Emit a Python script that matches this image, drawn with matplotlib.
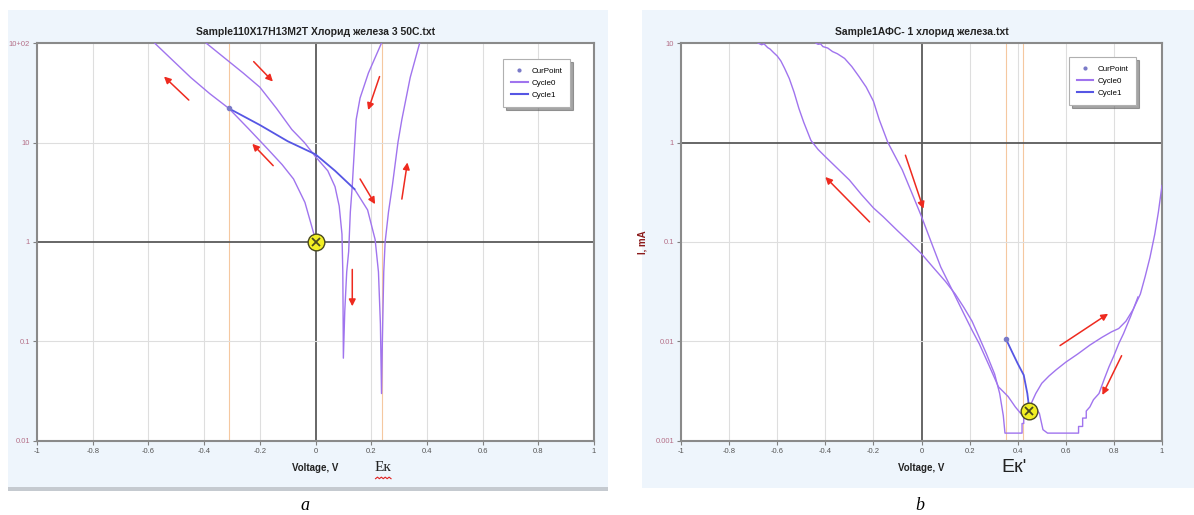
import numpy as np
import matplotlib.pyplot as plt
from matplotlib.patches import Rectangle
from matplotlib.lines import Line2D

plt.rcParams['font.family'] = ['Liberation Sans', 'DejaVu Sans']

# ---- panel a data (110X17H13M2T) ----
a_title = 'Sample110X17H13M2T Хлорид железа 3 50C.txt'
a_yticks = [0.01, 0.1, 1, 10, 100]
a_yticklabels = ['0.01', '0.1', '1', '10', '10+02']
a_left_x = [-0.578, -0.52, -0.448, -0.38, -0.311, -0.24, -0.17, -0.12, -0.079, -0.038, -0.014, -0.004]
a_left_y = [100, 70, 45, 31, 22, 13.7, 8.5, 6.0, 4.3, 2.5, 1.45, 1.15]
a_mid_x = [-0.393, -0.33, -0.26, -0.2, -0.14, -0.085, -0.04, 0.0, 0.044, 0.07, 0.085, 0.095, 0.098,
           0.099, 0.1, 0.105, 0.112, 0.119, 0.125, 0.132, 0.14, 0.146, 0.16, 0.19, 0.237]
a_mid_y = [100, 72, 50, 36, 22, 13.5, 10, 7.2, 5.2, 3.6, 2.3, 1.2, 0.5,
           0.2, 0.068, 0.2, 0.5, 0.8, 2.0, 3.7, 9.0, 17, 28, 50, 100]
a_right_x = [0.14, 0.187, 0.214, 0.226, 0.233, 0.237, 0.24, 0.245, 0.25, 0.262, 0.276, 0.296, 0.31, 0.34, 0.374]
a_right_y = [3.4, 2.1, 1.06, 0.5, 0.15, 0.03, 0.1, 0.5, 1.0, 2.0, 3.7, 10, 17, 45, 100]
a_c1_x = [-0.311, -0.2, -0.1, 0.0, 0.07, 0.14]
a_c1_y = [22, 15, 10.3, 7.6, 5.2, 3.4]
a_curpoint = (-0.311, 22)
a_ek = (0.0, 1.0)
a_orange = [-0.311, 0.24]
# arrows: (tail x, tail y, head x, head y)
a_arrows = [(-0.222, 65, -0.153, 41), (-0.455, 26.7, -0.544, 46), (0.230, 46, 0.189, 21.2),
            (-0.152, 5.85, -0.227, 9.7), (0.16, 4.3, 0.214, 2.4), (0.31, 2.7, 0.33, 6.3),
            (0.132, 0.53, 0.132, 0.226)]

# ---- panel b data (АФС-1) ----
b_title = 'Sample1АФС- 1 хлорид железа.txt'
b_yticks = [0.001, 0.01, 0.1, 1, 10]
b_yticklabels = ['0.001', '0.01', '0.1', '1', '10']
b_left_x = [-0.68, -0.665, -0.655, -0.64, -0.63, -0.615, -0.6, -0.585, -0.57, -0.55, -0.53, -0.51,
            -0.49, -0.46, -0.43, -0.4, -0.35, -0.3, -0.25, -0.2, -0.16, -0.1, -0.05, 0.0, 0.05, 0.1,
            0.14, 0.176, 0.21, 0.24, 0.27, 0.304, 0.325, 0.34, 0.347,
            0.418, 0.418, 0.425, 0.425, 0.435, 0.44, 0.447, 0.46, 0.475, 0.5, 0.53, 0.56, 0.6,
            0.65, 0.7, 0.75, 0.79, 0.82, 0.85, 0.88, 0.91, 0.93, 0.95, 0.97, 0.985, 1.0]
b_left_y = [10, 9.6, 9.8, 9.0, 8.7, 8.0, 7.4, 6.6, 5.6, 4.4, 3.2, 2.2,
            1.6, 1.05, 0.85, 0.72, 0.55, 0.42, 0.3, 0.22, 0.18, 0.13, 0.1, 0.076, 0.055, 0.04,
            0.03, 0.022, 0.016, 0.011, 0.0075, 0.0047, 0.003, 0.0018, 0.0012,
            0.0012, 0.0015, 0.0015, 0.0018, 0.0018, 0.002, 0.002, 0.0025, 0.003, 0.0038, 0.0045, 0.0052, 0.0062,
            0.0075, 0.0092, 0.011, 0.0125, 0.0135, 0.016, 0.021, 0.03, 0.045, 0.07, 0.12, 0.2, 0.37]
b_right_x = [-0.44, -0.43, -0.42, -0.41, -0.39, -0.37, -0.35, -0.32, -0.29, -0.26, -0.23, -0.2,
             -0.176, -0.14, -0.08, -0.04, 0.0, 0.04, 0.08, 0.13, 0.176, 0.21, 0.24, 0.28, 0.32,
             0.36, 0.39, 0.42, 0.447, 0.47, 0.49, 0.505, 0.524, 0.653, 0.653, 0.67, 0.67, 0.685,
             0.685, 0.7, 0.715, 0.738, 0.76, 0.78, 0.8, 0.82, 0.84, 0.87, 0.9]
b_right_y = [10, 9.7, 9.8, 9.2, 8.9, 8.2, 7.8, 7.0, 5.8, 4.6, 3.6, 2.6,
             1.7, 1.0, 0.53, 0.31, 0.18, 0.1, 0.056, 0.032, 0.019, 0.013, 0.0095, 0.0058, 0.0035,
             0.0028, 0.0022, 0.0018, 0.0019, 0.0022, 0.0019, 0.0013, 0.0012, 0.0012, 0.0014, 0.0014, 0.0017, 0.0017,
             0.002, 0.0022, 0.0026, 0.003, 0.0042, 0.0056, 0.0072, 0.0095, 0.012, 0.018, 0.028]
b_c1_x = [0.352, 0.375, 0.4, 0.425, 0.44, 0.447]
b_c1_y = [0.0105, 0.008, 0.006, 0.0046, 0.003, 0.0022]
b_curpoint = (0.352, 0.0105)
b_ek = (0.447, 0.002)
b_orange = [0.352, 0.42]
b_arrows = [(-0.216, 0.159, -0.4, 0.45), (-0.067, 0.745, 0.008, 0.216),
            (0.576, 0.0091, 0.776, 0.019), (0.832, 0.0072, 0.752, 0.0029)]

xticks = [-1, -0.8, -0.6, -0.4, -0.2, 0, 0.2, 0.4, 0.6, 0.8, 1]
xticklabels = ['-1', '-0.8', '-0.6', '-0.4', '-0.2', '0', '0.2', '0.4', '0.6', '0.8', '1']

C0 = '#a074ee'
C1 = '#5656e4'
CP = '#7a7ac8'


def setup_axes(ax, yticks, yticklabels, orange):
    ax.set_yscale('log')
    ax.set_xlim(-1, 1)
    ax.set_ylim(yticks[0], yticks[-1])
    for x in xticks[1:-1]:
        if x == 0:
            ax.axvline(x, color='#5a5a5a', lw=1.3, zorder=1)
        else:
            ax.axvline(x, color='#dedede', lw=0.8, zorder=1)
    for x in orange:
        ax.axvline(x, color='#f5c8a0', lw=0.8, zorder=1)
    for y in yticks[1:-1]:
        if y == 1:
            ax.axhline(y, color='#5a5a5a', lw=1.3, zorder=1)
        else:
            ax.axhline(y, color='#dedede', lw=0.8, zorder=1)
    ax.set_xticks(xticks)
    ax.set_xticklabels(xticklabels)
    ax.set_yticks(yticks)
    ax.set_yticklabels(yticklabels)
    ax.minorticks_off()
    ax.tick_params(axis='both', direction='out', length=3, width=0.8, labelsize=5.5, pad=2, color='#808080')
    ax.tick_params(axis='x', labelcolor='#555555')
    ax.tick_params(axis='y', labelcolor='#b57088')
    for s in ax.spines.values():
        s.set_color('#8a8a8a')
        s.set_linewidth(1.5)
    ax.set_facecolor('white')


def draw_arrows(ax, arrows):
    for tx, ty, hx, hy in arrows:
        ax.annotate('', xy=(hx, hy), xytext=(tx, ty),
                    arrowprops=dict(arrowstyle='-|>', color='#ee2a1f', lw=1.1, mutation_scale=10,
                                    shrinkA=0, shrinkB=0), zorder=5)


def draw_ek(ax, pt):
    ax.plot([pt[0]], [pt[1]], marker='o', ms=12, mfc='#f2ef24', mec='#4a4a20', mew=1.0, zorder=6)
    ax.plot([pt[0]], [pt[1]], marker='x', ms=6, color='#4a4a20', mew=1.3, zorder=7)


def add_legend(ax, anchor):
    handles = [Line2D([], [], marker='.', ls='none', color=CP, ms=4, label='CurPoint'),
               Line2D([], [], color=C0, lw=1.5, label='Cycle0'),
               Line2D([], [], color=C1, lw=1.5, label='Cycle1')]
    leg = ax.legend(handles=handles, loc='upper right', bbox_to_anchor=anchor, fontsize=5.8,
                    frameon=True, fancybox=False, shadow=True, handlelength=2.0,
                    borderpad=1.0, labelspacing=0.55, handletextpad=0.5)
    leg.get_frame().set_edgecolor('#b0b0b0')
    leg.get_frame().set_linewidth(0.8)


fig = plt.figure(figsize=(11.94, 5.15), dpi=100)
fig.patch.set_facecolor('white')

# panel backgrounds
fig.patches.append(Rectangle((0.0067, 0.0466), 0.5025, 0.934, transform=fig.transFigure,
                             facecolor='#eef5fc', edgecolor='none', zorder=-2))
fig.patches.append(Rectangle((0.0067, 0.0466), 0.5025, 0.007, transform=fig.transFigure,
                             facecolor='#c5cad0', edgecolor='none', zorder=-1))
fig.patches.append(Rectangle((0.5377, 0.0524), 0.4623, 0.928, transform=fig.transFigure,
                             facecolor='#eef5fc', edgecolor='none', zorder=-2))

# ---- panel a ----
ax_a = fig.add_axes([0.031, 0.1437, 0.4665, 0.7728])
setup_axes(ax_a, a_yticks, a_yticklabels, a_orange)
ax_a.plot(a_left_x, a_left_y, color=C0, lw=1.0, zorder=3)
ax_a.plot(a_mid_x, a_mid_y, color=C0, lw=1.0, zorder=3)
ax_a.plot(a_right_x, a_right_y, color=C0, lw=1.0, zorder=3)
ax_a.plot(a_c1_x, a_c1_y, color=C1, lw=1.3, zorder=3)
ax_a.plot([a_curpoint[0]], [a_curpoint[1]], marker='o', ms=3, color=CP, zorder=4)
draw_arrows(ax_a, a_arrows)
draw_ek(ax_a, a_ek)
add_legend(ax_a, (0.965, 0.97))
ax_a.set_title(a_title, fontsize=7.5, fontweight='bold', pad=5.5, color='#222222')
ax_a.set_xlabel('Voltage, V', fontsize=7, fontweight='bold', color='#222222')
ax_a.xaxis.set_label_coords(0.5, -0.055)

# ---- panel b ----
ax_b = fig.add_axes([0.5704, 0.1437, 0.4028, 0.7728])
setup_axes(ax_b, b_yticks, b_yticklabels, b_orange)
ax_b.plot(b_left_x, b_left_y, color=C0, lw=1.0, zorder=3)
ax_b.plot(b_right_x, b_right_y, color=C0, lw=1.0, zorder=3)
ax_b.plot(b_c1_x, b_c1_y, color=C1, lw=1.3, zorder=3)
ax_b.plot([b_curpoint[0]], [b_curpoint[1]], marker='o', ms=3, color=CP, zorder=4)
draw_arrows(ax_b, b_arrows)
draw_ek(ax_b, b_ek)
add_legend(ax_b, (0.955, 0.975))
ax_b.set_title(b_title, fontsize=7.5, fontweight='bold', pad=5.5, color='#222222')
ax_b.set_xlabel('Voltage, V', fontsize=7, fontweight='bold', color='#222222')
ax_b.xaxis.set_label_coords(0.5, -0.055)
ax_b.set_ylabel('I, mA', fontsize=7, fontweight='bold', color='#8b1a1a')
ax_b.yaxis.set_label_coords(-0.07, 0.5)

# Ek annotations under the axes
fig.text(0.3208, 0.0913, 'Ек', fontsize=11, family='Liberation Serif', ha='center', va='center', color='#222222')
zx = np.linspace(0.3145, 0.3275, 9)
zy = 0.0705 + np.array([0, 1, 0, 1, 0, 1, 0, 1, 0]) * 0.003
fig.add_artist(Line2D(zx, zy, transform=fig.transFigure, color='#e02020', lw=0.8))
fig.text(0.849, 0.0913, "Ек'", fontsize=14, ha='center', va='center', color='#222222')

fig.text(0.2555, 0.0194, 'a', fontsize=13, style='italic', family='Liberation Serif', ha='center', va='center')
fig.text(0.7705, 0.0194, 'b', fontsize=13, style='italic', family='Liberation Serif', ha='center', va='center')

plt.savefig('out.png', dpi=100)
